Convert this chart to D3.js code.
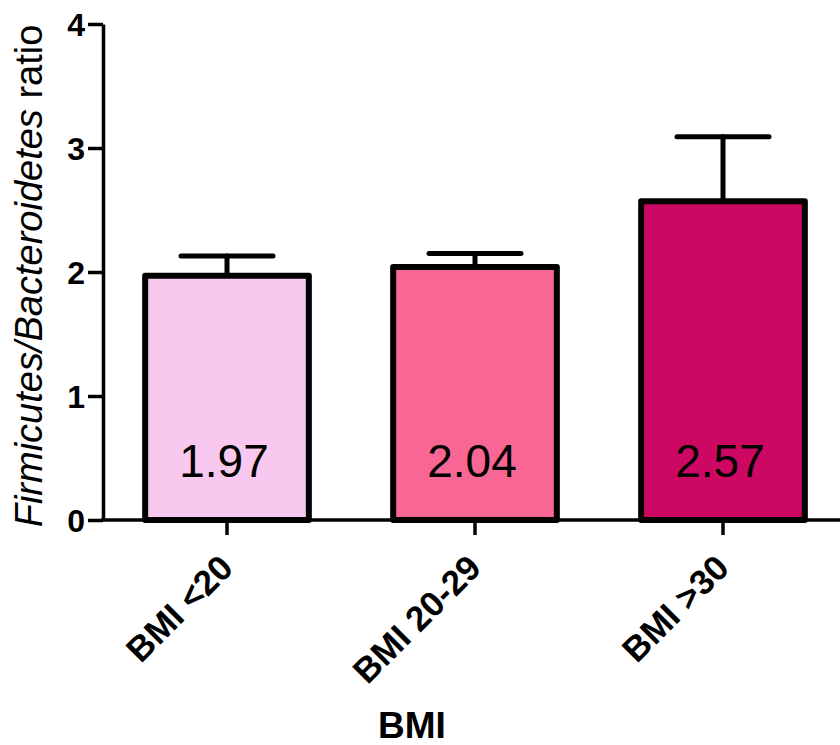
<!DOCTYPE html>
<html>
<head>
<meta charset="UTF-8">
<script src="https://d3js.org/d3.v7.min.js"></script>
<style>
  body { margin: 0; background: #fff; }
  svg { display: block; font-family: "Liberation Sans", Arial, sans-serif; }
  .axis path, .axis line { stroke: #000; stroke-width: 3.5px; }
  .axis text { fill: #000; font-weight: bold; }
</style>
</head>
<body>
<script>
// data
var groups = ["BMI <20", "BMI 20-29", "BMI >30"];
var means = [1.97, 2.04, 2.57];
var sems = [0.16, 0.11, 0.52];
var colors = ["#f8c8ee", "#f86694", "#cc0862"];
var yTicks = [0, 1, 2, 3, 4];

var W = 840, H = 745;
var svg = d3.select("body").append("svg")
    .attr("width", W)
    .attr("height", H);

// scales
var x = d3.scaleBand()
    .domain(groups)
    .range([103, 847])
    .paddingInner(0.34)
    .paddingOuter(0.17);
var y = d3.scaleLinear()
    .domain([0, 4])
    .range([520, 24]);

// bars
svg.selectAll(".bar")
    .data(groups)
    .enter().append("rect")
    .attr("class", "bar")
    .attr("x", function (d) { return x(d); })
    .attr("width", x.bandwidth())
    .attr("y", function (d, i) { return y(means[i]); })
    .attr("height", function (d, i) { return y(0) - y(means[i]); })
    .attr("fill", function (d, i) { return colors[i]; })
    .attr("stroke", "#000")
    .attr("stroke-width", 6)
    .attr("stroke-linejoin", "round");

// error bars (upper only)
var err = svg.selectAll(".err")
    .data(groups)
    .enter().append("g")
    .attr("class", "err")
    .attr("stroke", "#000")
    .attr("stroke-width", 5)
    .attr("stroke-linecap", "round");
err.append("line")
    .attr("x1", function (d) { return x(d) + x.bandwidth() / 2; })
    .attr("x2", function (d) { return x(d) + x.bandwidth() / 2; })
    .attr("y1", function (d, i) { return y(means[i]) - 3; })
    .attr("y2", function (d, i) { return y(means[i] + sems[i]); });
err.append("line")
    .attr("x1", function (d) { return x(d) + x.bandwidth() / 2 - 46; })
    .attr("x2", function (d) { return x(d) + x.bandwidth() / 2 + 46; })
    .attr("y1", function (d, i) { return y(means[i] + sems[i]); })
    .attr("y2", function (d, i) { return y(means[i] + sems[i]); });

// value labels inside bars
svg.selectAll(".val")
    .data(groups)
    .enter().append("text")
    .attr("class", "val")
    .attr("x", function (d) { return x(d) + x.bandwidth() / 2 - 3; })
    .attr("y", 477)
    .attr("text-anchor", "middle")
    .style("font-size", "46px")
    .text(function (d, i) { return means[i].toFixed(2); });

// y axis
var yAxis = svg.append("g")
    .attr("class", "axis")
    .attr("transform", "translate(103,0)")
    .call(d3.axisLeft(y).tickValues(yTicks).tickFormat(d3.format("d"))
        .tickSize(15).tickPadding(3).tickSizeOuter(0));
yAxis.selectAll("text").style("font-size", "32px").attr("dy", "0.36em");

// x axis
var xAxis = svg.append("g")
    .attr("class", "axis")
    .attr("transform", "translate(0,520)")
    .call(d3.axisBottom(x).tickSize(15).tickSizeOuter(0));
xAxis.select(".domain").attr("d", "M101,0H840");
xAxis.selectAll("text")
    .style("font-size", "35px")
    .attr("text-anchor", "end")
    .attr("x", 0)
    .attr("y", 0)
    .attr("dy", 0)
    .attr("transform", "translate(8,50) rotate(-45)");

// axis titles
svg.append("text")
    .attr("x", 412)
    .attr("y", 738)
    .attr("text-anchor", "middle")
    .style("font-size", "37px")
    .style("font-weight", "bold")
    .text("BMI");

var yl = svg.append("text")
    .attr("transform", "translate(42,276) rotate(-90)")
    .attr("text-anchor", "middle")
    .style("font-size", "38px");
yl.append("tspan").style("font-style", "italic").text("Firmicutes/Bacteroidetes");
yl.append("tspan").text(" ratio");
</script>
</body>
</html>
